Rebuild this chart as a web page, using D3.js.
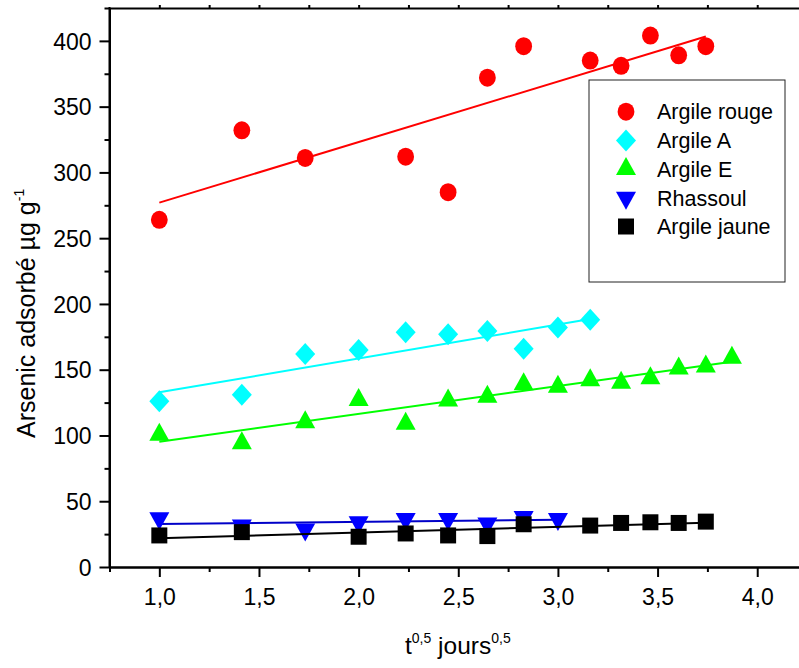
<!DOCTYPE html>
<html>
<head>
<meta charset="utf-8">
<script src="https://cdn.jsdelivr.net/npm/d3@7"></script>
<style>
  html, body { margin: 0; padding: 0; background: #fff; }
  svg { display: block; font-family: "Liberation Sans", Arial, sans-serif; }
</style>
</head>
<body>
<svg id="chart" width="799" height="668"></svg>
<script>
// ---- Data ----
const rougeX = [1.000, 1.414, 1.732, 2.236, 2.449, 2.646, 2.828, 3.162, 3.317, 3.464, 3.606, 3.742];
const rougeY = [264, 332, 311, 312, 285, 372, 396, 385, 381, 404, 389, 396];
const rougeFit = [[1.0, 277], [3.742, 403.3]];

const aX = [1.000, 1.414, 1.732, 2.000, 2.236, 2.449, 2.646, 2.828, 3.000, 3.162];
const aY = [126, 131, 162, 165, 178.5, 177, 179.5, 166, 182, 188];
const aFit = [[1.0, 132.8], [3.162, 188.5]];

const eX = [1.000, 1.414, 1.732, 2.000, 2.236, 2.449, 2.646, 2.828, 3.000, 3.162, 3.317, 3.464, 3.606, 3.742, 3.873];
const eY = [100.5, 94, 110, 127, 109, 126.5, 129.5, 139, 137, 142, 140, 143.5, 151, 152.5, 159];
const eFit = [[1.0, 95.3], [3.873, 156]];

const rhX = [1.000, 1.414, 1.732, 2.000, 2.236, 2.449, 2.646, 2.828, 3.000];
const rhY = [37, 31.5, 28.5, 34, 36.5, 36.5, 33, 38, 36.5];
const rhFit = [[1.0, 32.7], [3.0, 36.0]];

const jauneX = [1.000, 1.414, 2.000, 2.236, 2.449, 2.646, 2.828, 3.162, 3.317, 3.464, 3.606, 3.742];
const jauneY = [24, 26.5, 23, 25.5, 24, 23.5, 32.5, 31.5, 33.5, 34, 33.5, 34.5];
const jauneFit = [[1.0, 21.8], [3.742, 33.7]];

const seriesNames = ["Argile rouge", "Argile A", "Argile E", "Rhassoul", "Argile jaune"];
const seriesColors = ["#ff0000", "#00ffff", "#00ff00", "#0000ff", "#000000"];
const lineColors = ["#ff0000", "#00ffff", "#00ff00", "#0000c8", "#000000"];
const seriesShapes = ["circle", "diamond", "triangleUp", "triangleDown", "square"];

const xTicks = [1.0, 1.5, 2.0, 2.5, 3.0, 3.5, 4.0];
const yTicks = [0, 50, 100, 150, 200, 250, 300, 350, 400];

const series = [
  { x: rougeX, y: rougeY, fit: rougeFit },
  { x: aX, y: aY, fit: aFit },
  { x: eX, y: eY, fit: eFit },
  { x: rhX, y: rhY, fit: rhFit },
  { x: jauneX, y: jauneY, fit: jauneFit }
].map((s, i) => ({ ...s, name: seriesNames[i], color: seriesColors[i], lineColor: lineColors[i], shape: seriesShapes[i] }));

// ---- Layout ----
const svg = d3.select("#chart");
const mLeft = 109.5, mTop = 8, mBottom = 567;
const x = d3.scaleLinear().domain([0.75, 4.25]).range([mLeft, mLeft + 3.5 * 199.3]);
const y = d3.scaleLinear().domain([0, 425]).range([mBottom, mTop]);

function shapePath(shape) {
  switch (shape) {
    case "diamond": return "M0,-11L10,0L0,11L-10,0Z";
    case "triangleUp": return "M0,-12L10,6L-10,6Z";
    case "triangleDown": return "M0,12L10,-6L-10,-6Z";
    case "square": return "M-8,-8H8V8H-8Z";
  }
  return null;
}
function drawMarker(g, shape, color) {
  if (shape === "circle") {
    g.append("ellipse").attr("rx", 8.4).attr("ry", 9).attr("fill", color);
  } else {
    g.append("path").attr("d", shapePath(shape)).attr("fill", color);
  }
}

// ---- Axes ----
const fmt = d => d3.format(".1f")(d).replace(".", ",");

const xAxis = svg.append("g").attr("transform", `translate(0,${mBottom})`)
  .call(d3.axisBottom(x).tickValues(xTicks).tickFormat(fmt).tickSize(10).tickSizeOuter(0));
const xMinor = svg.append("g").attr("transform", `translate(0,${mBottom})`)
  .call(d3.axisBottom(x).tickValues([0.75, 1.25, 1.75, 2.25, 2.75, 3.25, 3.75]).tickFormat("").tickSize(5).tickSizeOuter(0));

const yAxis = svg.append("g").attr("transform", `translate(${mLeft},0)`)
  .call(d3.axisLeft(y).tickValues(yTicks).tickSize(10).tickSizeOuter(0));
const yMinor = svg.append("g").attr("transform", `translate(${mLeft},0)`)
  .call(d3.axisLeft(y).tickValues([25, 75, 125, 175, 225, 275, 325, 375, 425]).tickFormat("").tickSize(5).tickSizeOuter(0));

// top frame
const topAxis = svg.append("g").attr("transform", `translate(0,${mTop})`)
  .call(d3.axisTop(x).tickValues([1.0, 1.25, 1.5, 1.75, 2.0, 2.25, 2.5, 2.75, 3.0, 3.25, 3.5, 3.75, 4.0]).tickFormat("").tickSize(3).tickSizeOuter(0));

[xAxis, xMinor, yAxis, yMinor, topAxis].forEach(g => {
  g.selectAll(".domain").attr("stroke", "#000").attr("stroke-width", 2);
  g.selectAll(".tick line").attr("stroke", "#000").attr("stroke-width", 2);
  g.selectAll("text").attr("fill", "#000").style("font-size", "23px").style("font-family", "'Liberation Sans', Arial, sans-serif");
});
xAxis.selectAll("text").attr("dy", "1.09em");
yAxis.selectAll("text").attr("x", -18).attr("dy", "0.36em");
svg.append("line").attr("x1", mLeft).attr("x2", mLeft).attr("y1", mTop - 1).attr("y2", mBottom)
  .attr("stroke", "#000").attr("stroke-width", 2);

// ---- Series: fit lines then markers ----
series.forEach(s => {
  const line = d3.line().x(d => x(d[0])).y(d => y(d[1]));
  svg.append("path").attr("d", line(s.fit)).attr("fill", "none")
    .attr("stroke", s.lineColor).attr("stroke-width", 2);
  const pts = s.x.map((xv, i) => [xv, s.y[i]]);
  pts.forEach(p => {
    const g = svg.append("g").attr("transform", `translate(${x(p[0])},${y(p[1])})`);
    drawMarker(g, s.shape, s.color);
  });
});

// ---- Legend ----
const legend = svg.append("g");
legend.append("rect").attr("x", 589).attr("y", 80).attr("width", 196).attr("height", 202)
  .attr("fill", "#fff").attr("stroke", "#222").attr("stroke-width", 1);
series.forEach((s, i) => {
  const cy = 111.7 + i * 28.7;
  const g = legend.append("g").attr("transform", `translate(626,${cy})`);
  drawMarker(g, s.shape, s.color);
  legend.append("text").attr("x", 657).attr("y", cy).attr("dy", "0.36em")
    .style("font-size", "21.5px").attr("fill", "#000").text(s.name);
});

// ---- Axis titles ----
const yt = svg.append("text").attr("transform", "rotate(-90)")
  .attr("x", -438).attr("y", 35).style("font-size", "25px").attr("fill", "#000");
yt.append("tspan").text("Arsenic adsorbé µg g");
yt.append("tspan").attr("dy", -11).style("font-size", "14px").text("-1");

const xt = svg.append("text").attr("x", 405).attr("y", 654).style("font-size", "24.5px").attr("fill", "#000");
xt.append("tspan").text("t");
xt.append("tspan").attr("dy", -11).style("font-size", "14px").text("0,5");
xt.append("tspan").attr("dy", 11).text(" jours");
xt.append("tspan").attr("dy", -11).style("font-size", "14px").text("0,5");
</script>
</body>
</html>
